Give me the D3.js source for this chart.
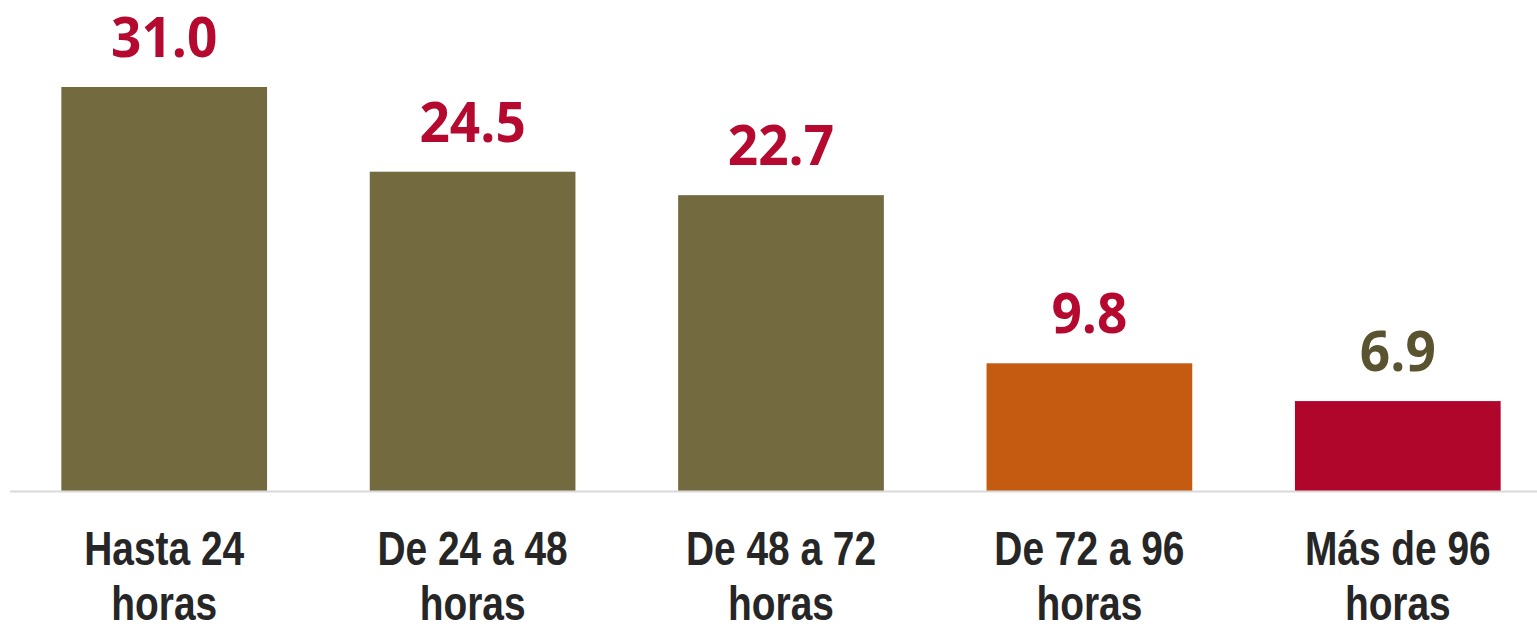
<!DOCTYPE html>
<html>
<head>
<meta charset="utf-8">
<script src="https://cdn.jsdelivr.net/npm/d3@7"></script>
<style>
  html, body { margin: 0; padding: 0; background: #fff; }
  svg { display: block; }
</style>
</head>
<body>
<div id="root"></div>
<script>
// chart data
const categories = [['Hasta 24', 'horas'], ['De 24 a 48', 'horas'], ['De 48 a 72', 'horas'], ['De 72 a 96', 'horas'], ['Más de 96', 'horas']];
const values = [31.0, 24.5, 22.7, 9.8, 6.9];
const barColors = ['#736a40', '#736a40', '#736a40', '#c55a11', '#b0062c'];
const labelColors = ['#b5092f', '#b5092f', '#b5092f', '#b5092f', '#59532f'];

let width = 1537,
    height = 627,
    baseline = 491;

let svg = d3.select('#root')
    .append('svg')
    .attr('width', width)
    .attr('height', height);

let x = d3.scaleBand()
    .domain(d3.range(values.length))
    .range([10, 1552])
    .paddingInner(0.333)
    .paddingOuter(0.1665);

// 31 -> 404px
let y = d3.scaleLinear()
    .domain([0, 31])
    .range([baseline, 87]);

svg.append('g')
    .selectAll('rect')
    .data(values)
    .enter()
    .append('rect')
    .attr('x', (d, i) => x(i))
    .attr('y', (d) => y(d))
    .attr('width', x.bandwidth())
    .attr('height', (d) => baseline - y(d))
    .attr('fill', (d, i) => barColors[i]);

// axis line
svg.append('line')
    .attr('x1', 10)
    .attr('x2', width)
    .attr('y1', baseline + 0.5)
    .attr('y2', baseline + 0.5)
    .style('stroke', '#d9d9d9')
    .style('stroke-width', 2);

// value labels
svg.append('g')
    .selectAll('text')
    .data(values)
    .enter()
    .append('text')
    .attr('transform', (d, i) => `translate(${x(i) + x.bandwidth() / 2},${y(d) - 30}) scale(0.95,1)`)
    .attr('text-anchor', 'middle')
    .style('font-family', '"Open Sans", sans-serif')
    .style('font-weight', 700)
    .style('font-size', '56px')
    .style('fill', (d, i) => labelColors[i])
    .text((d) => d.toFixed(1));

// category labels
let catGroups = svg.append('g')
    .selectAll('g')
    .data(categories)
    .enter()
    .append('g')
    .attr('transform', (d, i) => `translate(${x(i) + x.bandwidth() / 2},0) scale(0.81,1)`);

catGroups.selectAll('text')
    .data((d) => d)
    .enter()
    .append('text')
    .attr('x', 0)
    .attr('y', (d, j) => 565 + j * 55)
    .attr('text-anchor', 'middle')
    .style('font-family', '"Liberation Sans", Arial, sans-serif')
    .style('font-weight', 700)
    .style('font-size', '48px')
    .style('fill', '#262626')
    .text((d) => d);
</script>
</body>
</html>
